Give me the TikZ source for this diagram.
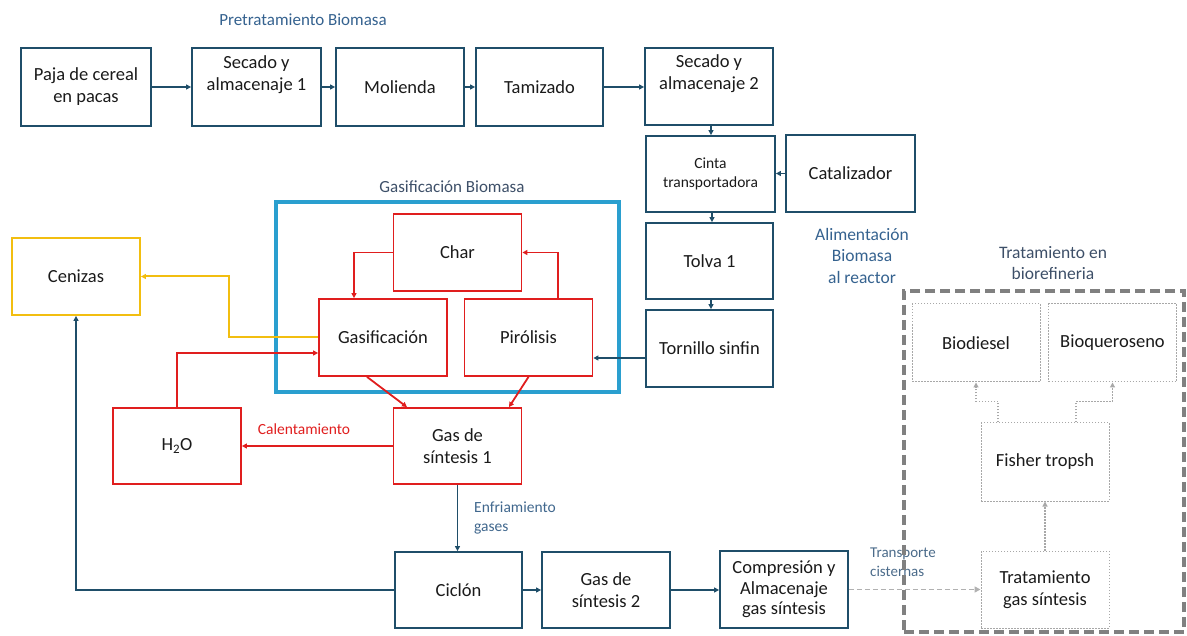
\documentclass[tikz,border=0pt]{standalone}
\usepackage{fontspec}
\setmainfont{Carlito}
\usetikzlibrary{arrows.meta,calc}
\definecolor{tealb}{HTML}{1F4E69}
\definecolor{redb}{HTML}{E01E1E}
\definecolor{yelb}{HTML}{F2BE10}
\definecolor{cyanb}{HTML}{2A9FCF}
\definecolor{lblue}{HTML}{35628F}
\definecolor{lslate}{HTML}{3D4F68}
\definecolor{txt}{HTML}{1A1A1A}
\definecolor{gdash}{HTML}{808080}
\definecolor{gdot}{HTML}{A8A8A8}
\tikzset{
  bx/.style={draw=tealb,line width=1.8pt,rectangle,inner sep=0pt,align=center,text=txt,
    font=\fontsize{18.5}{22}\selectfont,minimum width=#1},
  bx/.default=128pt,
  rbx/.style={bx,draw=redb},
  ybx/.style={bx,draw=yelb},
  gbx/.style={bx,draw=gdot,line width=1pt,dash pattern=on 1.5pt off 1.5pt},
  tarr/.style={draw=tealb,line width=1.8pt,-{Triangle[length=5pt,width=5pt]}},
  rarr/.style={draw=redb,line width=1.8pt,-{Triangle[length=5pt,width=5pt]}},
  yarr/.style={draw=yelb,line width=2pt,-{Triangle[length=5pt,width=5pt]}},
  garr/.style={draw=gdot,line width=1.2pt,dash pattern=on 1.5pt off 1.5pt,-{Triangle[length=5pt,width=5pt]}},
  darr/.style={draw=gdot!90,line width=1.5pt,dash pattern=on 5pt off 3pt,-{Triangle[length=6pt,width=6pt]}},
  lbl/.style={inner sep=0pt,align=center,font=\fontsize{17}{21}\selectfont},
}
\begin{document}
\begin{tikzpicture}[x=1pt,y=-1pt]
\useasboundingbox (0,0) rectangle (1187,636);
% group frame
\node[draw=cyanb,line width=4pt,minimum width=343pt,minimum height=190pt,inner sep=0pt] (gbox) at (447.5,297) {};
% top row
\node[bx=130pt,minimum height=78pt] (paja) at (86,87) {Paja de cereal\\en pacas};
\node[bx=129pt,minimum height=78pt] (sec1) at (256.5,87) {Secado y\\almacenaje 1\\\strut};
\node[bx=128pt,minimum height=78pt] (mol) at (400,87) {Molienda};
\node[bx=127pt,minimum height=78pt] (tam) at (539.5,87) {Tamizado};
\node[bx=128pt,minimum height=77pt] (sec2) at (709,86.5) {Secado y\\almacenaje 2\\\strut};
\node[bx=129pt,minimum height=76pt,font=\fontsize{15.5}{19}\selectfont] (cinta) at (710.5,174) {Cinta\\transportadora};
\node[bx=129pt,minimum height=77pt] (cat) at (850.5,173.5) {Catalizador};
\node[bx=127pt,minimum height=76pt] (tolva) at (709.5,261) {Tolva 1};
\node[bx=127pt,minimum height=77pt] (torn) at (709.5,348.5) {Tornillo sinfin};
% gasification
\node[rbx=129pt,minimum height=77pt] (char) at (457.5,252.5) {Char};
\node[rbx=128pt,minimum height=77pt] (gasif) at (383,337.5) {Gasificación};
\node[rbx=129pt,minimum height=77pt] (piro) at (528.5,337.5) {Pirólisis};
\node[ybx=128pt,minimum height=77pt] (cen) at (76,276.5) {Cenizas};
\node[rbx=128pt,minimum height=76pt] (h2o) at (177,446) {H\textsubscript{2}O};
\node[rbx=129pt,minimum height=76pt] (gs1) at (457.5,446) {Gas de\\síntesis 1};
% bottom row
\node[bx=127pt,minimum height=76pt] (cic) at (458.5,590) {Ciclón};
\node[bx=128pt,minimum height=76pt] (gs2) at (606,590) {Gas de\\síntesis 2};
\node[bx=128pt,minimum height=77pt,font=\fontsize{18.5}{20.5}\selectfont] (comp) at (784,589.5) {Compresión y\\Almacenaje\\gas síntesis};
% biorefinery
\node[gbx=130pt,minimum height=78pt] (bio) at (976,343) {Biodiesel};
\node[gbx=129pt,minimum height=78pt] (bioq) at (1112.5,343) {Bioqueroseno};
\node[gbx=128pt,minimum height=78pt] (ft) at (1045,462) {Fisher tropsh};
\node[gbx=128pt,minimum height=77pt] (tgs) at (1045,589.5) {Tratamiento\\gas síntesis};
% labels
\node[lbl,text=lblue] (l1) at (303,20) {Pretratamiento Biomasa};
\node[lbl,text=lslate] (l2) at (452,187) {Gasificación Biomasa};
\node[lbl,text=lblue,font=\fontsize{17.5}{21.5}\selectfont] (l3) at (862,255.5) {Alimentación\\Biomasa\\al reactor};
\node[lbl,text=lslate,font=\fontsize{17.5}{21}\selectfont] (l4) at (1053,263.5) {Tratamiento en\\biorefineria};
\node[lbl,text=redb,font=\fontsize{15.5}{19}\selectfont] (l5) at (304,429) {Calentamiento};
\node[lbl,text=lblue!85!gray,anchor=west,align=left,font=\fontsize{15.5}{19}\selectfont] (l6) at (474,517.5) {Enfriamiento\\gases};
\node[lbl,text=lblue!70!gray,anchor=west,align=left,font=\fontsize{15}{19}\selectfont] (l7) at (870,562.5) {Transporte\\cisternas};
% pretreatment arrows
\draw[tarr] (paja) -- (sec1);
\draw[tarr] (sec1) -- (mol);
\draw[tarr] (mol) -- (tam);
\draw[tarr] (tam.east) -- (tam.east -| sec2.west);
\draw[tarr] ([xshift=2pt]sec2.south) -- ([xshift=2pt]sec2.south |- cinta.north);
\draw[tarr] ([xshift=1.5pt]cinta.south) -- ([xshift=1.5pt]cinta.south |- tolva.north);
\draw[tarr] ([xshift=1.5pt]tolva.south) -- ([xshift=1.5pt]tolva.south |- torn.north);
\draw[tarr] (cat.west) -- (cat.west -| cinta.east);
\draw[tarr] ([yshift=-9.5pt]torn.west) -- ([yshift=-9.5pt]torn.west -| piro.east);
% gasification arrows
\draw[rarr] (char.west) -| ([xshift=-29pt]gasif.north);
\draw[rarr] ([xshift=29.5pt]piro.north) |- (char.east);
\draw[yarr] (gasif.west) -- ++(-89,0) |- (cen.east);
\draw[rarr] (h2o.north) |- ([yshift=-15.5pt]gasif.west);
\draw[rarr] ([xshift=-16pt]gasif.south) -- ([xshift=-50.5pt]gs1.north);
\draw[rarr] (piro.south) -- ([xshift=51.5pt]gs1.north);
\draw[rarr] (gs1) -- (h2o);
% cooling / bottom
\draw[tarr] (gs1.south) -- (gs1.south |- cic.north);
\draw[tarr] (cic.west) -| (cen.south);
\draw[tarr] (cic) -- (gs2);
\draw[tarr] (gs2.east) -- (gs2.east -| comp.west);
\draw[darr] (comp.east) -- (comp.east -| tgs.west);
% biorefinery arrows
\draw[garr] (tgs.north) -- (ft.south);
\draw[garr] ([xshift=-47pt]ft.north) -- ++(0,-21) -| (bio.south);
\draw[garr] ([xshift=31pt]ft.north) -- ++(0,-21) -| (bioq.south);
% dashed frame
\node[draw=gdash,line width=3.5pt,dash pattern=on 10pt off 5pt,minimum width=280pt,minimum height=341pt,inner sep=0pt] (rbox) at (1044,461.5) {};
\end{tikzpicture}
\end{document}
